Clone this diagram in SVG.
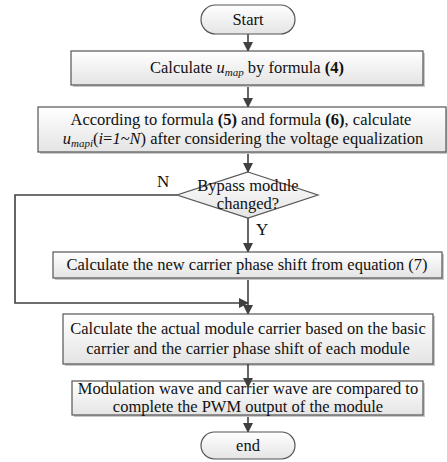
<svg xmlns="http://www.w3.org/2000/svg" width="447" height="462" viewBox="0 0 447 462">
<defs>
<linearGradient id="g" x1="0" y1="0" x2="0" y2="1">
<stop offset="0" stop-color="#ffffff"/>
<stop offset="1" stop-color="#e4e4e4"/>
</linearGradient>
<marker id="ah" markerWidth="10" markerHeight="10" refX="9" refY="5" orient="auto" markerUnits="userSpaceOnUse">
<path d="M0,0 L10,5 L0,10 Z" fill="#404040"/>
</marker>
<style>
.box{fill:url(#g);stroke:#555;stroke-width:1.2}
.sh{fill:#c8c8c8}
.t{font-family:"Liberation Serif","Times New Roman",serif;font-size:16.5px;fill:#111;text-anchor:middle}
.lbl{font-family:"Liberation Serif","Times New Roman",serif;font-size:17px;fill:#111}
.c{fill:none;stroke:#404040;stroke-width:1.6}
.i{font-style:italic}
.b{font-weight:bold}
</style>
</defs>
<rect width="447" height="462" fill="#fff"/>

<g id="connectors">
<line class="c" x1="248" y1="34" x2="248" y2="51" marker-end="url(#ah)"/>
<line class="c" x1="248" y1="85" x2="248" y2="107" marker-end="url(#ah)"/>
<line class="c" x1="248" y1="152" x2="248" y2="172" marker-end="url(#ah)"/>
<line class="c" x1="248" y1="218" x2="248" y2="252" marker-end="url(#ah)"/>
<polyline class="c" points="177,195 15,195 15,303 248,303" marker-end="url(#ah)"/>
<line class="c" x1="248" y1="278" x2="248" y2="314" marker-end="url(#ah)"/>
<line class="c" x1="248" y1="415" x2="248" y2="432" marker-end="url(#ah)"/>
</g>

<g id="start">
<rect class="box" x="201" y="5" width="94" height="29" rx="14.5"/>
<text class="t" x="248" y="25">Start</text>
</g>

<g id="box1">
<rect class="sh" x="73" y="53" width="352" height="34"/>
<rect class="box" x="71" y="51" width="352" height="34"/>
<text class="t" x="247" y="73">Calculate <tspan class="i">u</tspan><tspan class="i" font-size="11" dy="3">map</tspan><tspan dy="-3"> by formula </tspan><tspan class="b">(4)</tspan></text>
</g>

<g id="box2">
<rect class="sh" x="40" y="109" width="408" height="45"/>
<rect class="box" x="38" y="107" width="408" height="45"/>
<text class="t" x="241" y="125">According to formula <tspan class="b">(5)</tspan> and formula <tspan class="b">(6)</tspan>, calculate</text>
<text class="t" x="243" y="144"><tspan class="i">u</tspan><tspan class="i" font-size="11" dy="3">mapi</tspan><tspan dy="-3">(</tspan><tspan class="i">i</tspan>=<tspan class="i">1</tspan>~<tspan class="i">N</tspan>) after considering the voltage equalization</text>
</g>

<g id="decision">
<polygon class="box" points="248,172 318,195 248,218 177,195"/>
<text class="t" x="248" y="191">Bypass module</text>
<text class="t" x="248" y="209">changed?</text>
</g>

<g id="labels">
<text class="lbl" x="157" y="187">N</text>
<text class="lbl" x="256" y="235">Y</text>
</g>

<g id="box3">
<rect class="sh" x="55" y="254" width="389" height="26"/>
<rect class="box" x="53" y="252" width="389" height="26"/>
<text class="t" x="247" y="270">Calculate the new carrier phase shift from equation (7)</text>
</g>

<g id="box4">
<rect class="sh" x="65" y="316" width="370" height="50"/>
<rect class="box" x="63" y="314" width="370" height="50"/>
<text class="t" x="248" y="334">Calculate the actual module carrier based on the basic</text>
<text class="t" x="248" y="354">carrier and the carrier phase shift of each module</text>
</g>

<g id="box5">
<rect class="sh" x="74" y="383" width="351" height="34"/>
<rect class="box" x="72" y="381" width="351" height="34"/>
<text class="t" x="248" y="394">Modulation wave and carrier wave are compared to</text>
<text class="t" x="248" y="412">complete the PWM output of the module</text>
</g>

<line class="c" x1="248" y1="364" x2="248" y2="387" marker-end="url(#ah)"/>

<g id="end">
<rect class="box" x="201" y="432" width="94" height="27" rx="13.5"/>
<text class="t" x="248" y="451">end</text>
</g>
</svg>
